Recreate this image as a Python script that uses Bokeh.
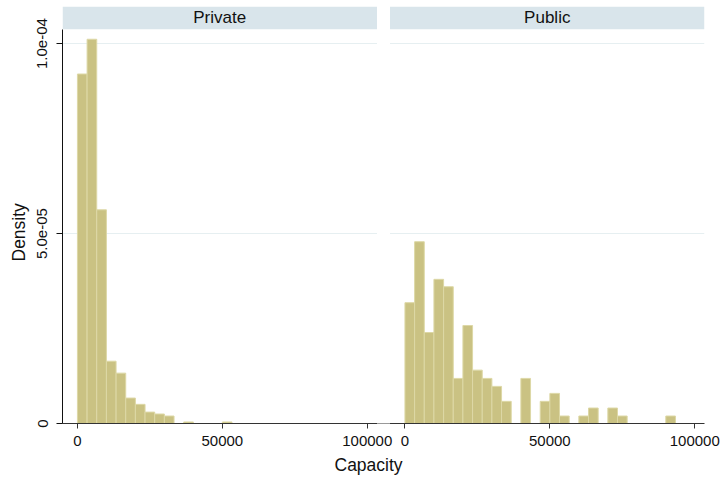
import numpy as np
from bokeh.plotting import figure
from bokeh.models import Range1d, FixedTicker, BoxAnnotation, Label, Title
from bokeh.embed import file_html
from bokeh.resources import INLINE

# ---- data ----
groups = ["Private", "Public"]
bin_count = 30
bin_width = 100000 / bin_count
x_tick_values = [0, 50000, 100000]
x_tick_labels = ["0", "50000", "100000"]
y_tick_values = [0, 5e-05, 1e-04]
y_tick_labels = ["0", "5.0e-05", "1.0e-04"]

private_density = [0.920e-4, 1.0115e-4, 0.5625e-4, 0.164e-4, 0.1326e-4, 0.067e-4,
                   0.0504e-4, 0.030e-4, 0.025e-4, 0.0197e-4, 0.0, 0.004e-4,
                   0.0, 0.0, 0.0, 0.004e-4, 0.0, 0.0, 0.0, 0.0,
                   0.0, 0.0, 0.0, 0.0, 0.0, 0.0, 0.0, 0.0, 0.0, 0.0]
public_density = [0.318e-4, 0.4785e-4, 0.2395e-4, 0.3795e-4, 0.360e-4, 0.1187e-4,
                  0.258e-4, 0.1405e-4, 0.1187e-4, 0.0977e-4, 0.0583e-4, 0.0,
                  0.1187e-4, 0.0, 0.0583e-4, 0.0793e-4, 0.0197e-4, 0.0,
                  0.0197e-4, 0.0407e-4, 0.0, 0.0407e-4, 0.0197e-4, 0.0,
                  0.0, 0.0, 0.0, 0.0197e-4, 0.0, 0.0]

# ---- layout constants ----
FONT = "Liberation Sans"
BAR_FILL = "#CAC283"
BAR_LINE = "#DDD8A6"
STRIP = "#D9E5EB"
GRID = "#E6EFF1"
PANEL_LO, PANEL_HI = -5150, 103350      # x extent of one panel (data units)
OFFSET = 113000                          # shift of the second panel
Y_TOP = 1.0977e-4
STRIP_BOTTOM = 1.038e-4

p = figure(width=722, height=478, output_backend="svg", toolbar_location=None,
           x_range=Range1d(PANEL_LO, PANEL_HI + OFFSET), y_range=Range1d(0, Y_TOP),
           min_border_left=62, min_border_right=18, min_border_top=6, min_border_bottom=54)
p.outline_line_color = None
p.background_fill_color = "white"
p.border_fill_color = "white"

# grid
p.xgrid.visible = False
p.ygrid.ticker = FixedTicker(ticks=y_tick_values[1:])
p.ygrid.grid_line_color = GRID
p.ygrid.grid_line_width = 1

# strips
for i, name in enumerate(groups):
    off = i * OFFSET
    p.add_layout(BoxAnnotation(left=PANEL_LO + off, right=PANEL_HI + off,
                               bottom=STRIP_BOTTOM, top=Y_TOP,
                               fill_color=STRIP, fill_alpha=1, line_color=None,
                               level="underlay"))
    p.add_layout(Label(x=(PANEL_LO + PANEL_HI) / 2 + off, y=(STRIP_BOTTOM + Y_TOP) / 2,
                       text=name, text_align="center", text_baseline="middle",
                       text_font=FONT, text_font_size="17px", text_color="#111111"))

# bars
edges = np.arange(bin_count) * bin_width
for i, dens in enumerate([private_density, public_density]):
    d = np.array(dens)
    m = d > 0
    left = edges[m] + i * OFFSET
    p.quad(left=left, right=left + bin_width, bottom=0, top=d[m],
           fill_color=BAR_FILL, line_color=BAR_LINE, line_width=1)

# gap between panels
p.add_layout(BoxAnnotation(left=PANEL_HI, right=PANEL_LO + OFFSET,
                           bottom=-0.06e-4, top=Y_TOP,
                           fill_color="white", fill_alpha=1, line_color=None,
                           level="overlay"))

# x axis
xt = list(x_tick_values) + [v + OFFSET for v in x_tick_values]
xl = list(x_tick_labels) * 2
xa = p.xaxis[0]
xa.ticker = FixedTicker(ticks=xt)
xa.major_label_overrides = {t: l for t, l in zip(xt, xl)}
xa.axis_line_color = "#333333"
xa.major_tick_line_color = "#333333"
xa.major_tick_out = 5
xa.major_tick_in = 0
xa.minor_tick_line_color = None
xa.major_label_standoff = 7
xa.major_label_text_font = FONT
xa.major_label_text_font_size = "15px"
xa.major_label_text_color = "#111111"

# y axis
ya = p.yaxis[0]
ya.ticker = FixedTicker(ticks=y_tick_values)
ya.major_label_overrides = {t: l for t, l in zip(y_tick_values, y_tick_labels)}
ya.bounds = (0, STRIP_BOTTOM)
ya.axis_line_color = "#111111"
ya.major_tick_line_color = "#111111"
ya.major_tick_out = 6
ya.major_tick_in = 0
ya.minor_tick_line_color = None
ya.major_label_orientation = "vertical"
ya.major_label_standoff = 9
ya.major_label_text_font = FONT
ya.major_label_text_font_size = "15px"
ya.major_label_text_color = "#111111"

# y-axis title as a left-side title, shifted to sit level with the middle tick
p.add_layout(Title(text="Density", align="left", offset=162, standoff=11,
                   text_font=FONT, text_font_size="17.5px", text_font_style="normal",
                   text_color="#111111"), "left")

p.add_layout(Title(text="Capacity", align="left", offset=272, standoff=8,
                   text_font=FONT, text_font_size="17.5px", text_font_style="normal",
                   text_color="#111111"), "below")

open("out.html", "w").write(file_html(p, INLINE))
